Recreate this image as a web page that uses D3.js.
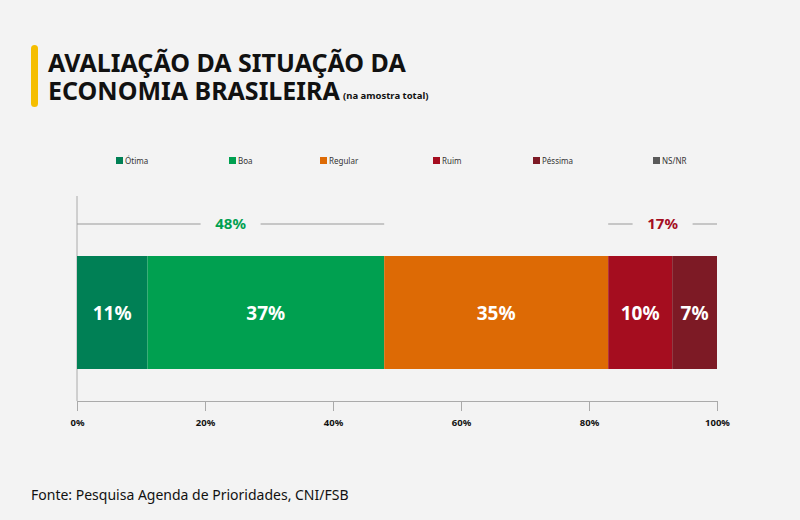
<!DOCTYPE html>
<html><head><meta charset="utf-8">
<script src="https://cdn.jsdelivr.net/npm/d3@7"></script>
<style>body{margin:0;background:#f3f3f3;font-family:"Noto Sans",sans-serif}</style>
</head><body><div id="graph"></div>
<script>
// data
var categories = ["Ótima", "Boa", "Regular", "Ruim", "Péssima", "NS/NR"];
var values = [11, 37, 35, 10, 7, 0];
var colors = ["#008055", "#00a050", "#dd6a05", "#a50d1f", "#7d1a25", "#5a5a5a"];
var groups = [{ label: "48%", from: 0, to: 48, color: "#00a050" }, { label: "17%", from: 83, to: 100, color: "#a50d1f" }];
var ticks = [0, 20, 40, 60, 80, 100];

var width = 800, height = 520;
var svg = d3.select("#graph").append("svg").attr("width", width).attr("height", height);
svg.append("rect").attr("width", width).attr("height", height).attr("fill", "#f3f3f3");

// title
svg.append("rect").attr("x", 31).attr("y", 45).attr("width", 7).attr("height", 62).attr("rx", 3.5).attr("fill", "#f5be00");
svg.append("text").attr("x", 48).attr("y", 72).text("AVALIAÇÃO DA SITUAÇÃO DA")
    .style("font-size", "25px").style("font-weight", "bold").attr("fill", "#111");
svg.append("text").attr("x", 48).attr("y", 100).text("ECONOMIA BRASILEIRA")
    .style("font-size", "25px").style("font-weight", "bold").attr("fill", "#111");
svg.append("text").attr("x", 343).attr("y", 99).text("(na amostra total)")
    .style("font-size", "9.5px").style("font-weight", "bold").attr("fill", "#111");

var x = d3.scaleLinear().domain([0, 100]).range([77, 717]);
var barTop = 256, barBottom = 369, axisY = 401;

// legend
var legendX = [116, 229, 320, 433, 533, 653];
categories.forEach(function(c, i) {
    svg.append("rect").attr("x", legendX[i]).attr("y", 157).attr("width", 7).attr("height", 7).attr("fill", colors[i]);
    svg.append("text").attr("x", legendX[i] + 9).attr("y", 164).text(c).style("font-size", "8px").attr("fill", "#333");
});

// frame lines
svg.append("line").attr("x1", 77).attr("x2", 77).attr("y1", 196).attr("y2", axisY).attr("stroke", "#aaa");
svg.append("g").attr("transform", "translate(0," + axisY + ")")
    .call(d3.axisBottom(x).tickValues(ticks).tickSize(10).tickFormat(function(d) { return d + "%"; }))
    .call(function(g) {
        g.select(".domain").attr("stroke", "#aaa");
        g.selectAll(".tick line").attr("stroke", "#aaa");
        g.selectAll("text").attr("dy", "1.3em").style("font-size", "9.5px").style("font-weight", "bold").style("font-family", "Noto Sans").attr("fill", "#111");
    });

// stacked bar
var cum = 0;
var segs = values.map(function(v, i) { var s = { v: v, x0: cum, c: colors[i] }; cum += v; return s; }).filter(function(d) { return d.v > 0; });
svg.selectAll(".seg").data(segs).enter().append("rect")
    .attr("x", function(d) { return x(d.x0); })
    .attr("width", function(d) { return x(d.x0 + d.v) - x(d.x0); })
    .attr("y", barTop).attr("height", barBottom - barTop)
    .attr("fill", function(d) { return d.c; });
svg.selectAll(".lbl").data(segs).enter().append("text")
    .attr("x", function(d) { return x(d.x0 + d.v / 2); })
    .attr("y", (barTop + barBottom) / 2 + 7)
    .attr("text-anchor", "middle").attr("fill", "#fff")
    .style("font-size", "19px").style("font-weight", "bold")
    .text(function(d) { return d.v + "%"; });

// group brackets
groups.forEach(function(g) {
    var mid = (x(g.from) + x(g.to)) / 2;
    svg.append("line").attr("x1", x(g.from)).attr("x2", mid - 30).attr("y1", 224).attr("y2", 224).attr("stroke", "#999");
    svg.append("line").attr("x1", mid + 30).attr("x2", x(g.to)).attr("y1", 224).attr("y2", 224).attr("stroke", "#999");
    svg.append("text").attr("x", mid).attr("y", 229).attr("text-anchor", "middle")
        .attr("fill", g.color).style("font-size", "15px").style("font-weight", "bold").text(g.label);
});

svg.append("text").attr("x", 31).attr("y", 500).text("Fonte: Pesquisa Agenda de Prioridades, CNI/FSB")
    .style("font-size", "14px").attr("fill", "#111");
</script></body></html>
